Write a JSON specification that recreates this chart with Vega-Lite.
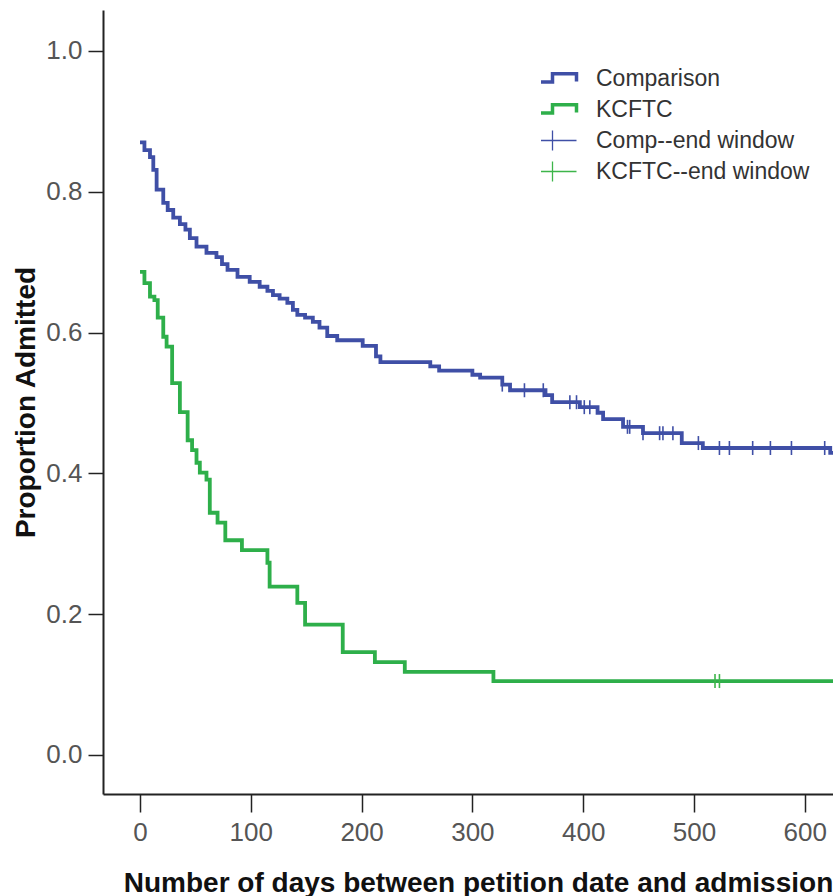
{
  "$schema": "https://vega.github.io/schema/vega-lite/v6.json",
  "width": 730,
  "height": 784,
  "autosize": {"type": "none"},
  "padding": {"left": 103, "top": 10, "right": 0, "bottom": 102},
  "background": "white",
  "config": {"view": {"stroke": null}, "font": "Liberation Sans"},
  "datasets": {
    "curves": [
      {"series": "Comparison", "day": 0, "value": 0.870},
      {"series": "Comparison", "day": 4, "value": 0.859},
      {"series": "Comparison", "day": 9, "value": 0.849},
      {"series": "Comparison", "day": 12, "value": 0.831},
      {"series": "Comparison", "day": 15, "value": 0.803},
      {"series": "Comparison", "day": 21, "value": 0.784},
      {"series": "Comparison", "day": 25, "value": 0.774},
      {"series": "Comparison", "day": 30, "value": 0.763},
      {"series": "Comparison", "day": 36, "value": 0.754},
      {"series": "Comparison", "day": 41, "value": 0.746},
      {"series": "Comparison", "day": 45, "value": 0.734},
      {"series": "Comparison", "day": 51, "value": 0.722},
      {"series": "Comparison", "day": 60, "value": 0.713},
      {"series": "Comparison", "day": 69, "value": 0.707},
      {"series": "Comparison", "day": 74, "value": 0.697},
      {"series": "Comparison", "day": 79, "value": 0.689},
      {"series": "Comparison", "day": 88, "value": 0.679},
      {"series": "Comparison", "day": 99, "value": 0.672},
      {"series": "Comparison", "day": 108, "value": 0.665},
      {"series": "Comparison", "day": 115, "value": 0.659},
      {"series": "Comparison", "day": 120, "value": 0.653},
      {"series": "Comparison", "day": 126, "value": 0.648},
      {"series": "Comparison", "day": 133, "value": 0.642},
      {"series": "Comparison", "day": 138, "value": 0.632},
      {"series": "Comparison", "day": 142, "value": 0.625},
      {"series": "Comparison", "day": 149, "value": 0.621},
      {"series": "Comparison", "day": 156, "value": 0.615},
      {"series": "Comparison", "day": 162, "value": 0.607},
      {"series": "Comparison", "day": 169, "value": 0.595},
      {"series": "Comparison", "day": 178, "value": 0.589},
      {"series": "Comparison", "day": 201, "value": 0.581},
      {"series": "Comparison", "day": 213, "value": 0.566},
      {"series": "Comparison", "day": 217, "value": 0.558},
      {"series": "Comparison", "day": 262, "value": 0.552},
      {"series": "Comparison", "day": 270, "value": 0.546},
      {"series": "Comparison", "day": 300, "value": 0.540},
      {"series": "Comparison", "day": 307, "value": 0.536},
      {"series": "Comparison", "day": 327, "value": 0.526},
      {"series": "Comparison", "day": 334, "value": 0.518},
      {"series": "Comparison", "day": 366, "value": 0.511},
      {"series": "Comparison", "day": 372, "value": 0.501},
      {"series": "Comparison", "day": 397, "value": 0.494},
      {"series": "Comparison", "day": 413, "value": 0.486},
      {"series": "Comparison", "day": 418, "value": 0.477},
      {"series": "Comparison", "day": 436, "value": 0.466},
      {"series": "Comparison", "day": 454, "value": 0.457},
      {"series": "Comparison", "day": 489, "value": 0.443},
      {"series": "Comparison", "day": 508, "value": 0.436},
      {"series": "Comparison", "day": 623, "value": 0.429},
      {"series": "Comparison", "day": 640, "value": 0.429},
      {"series": "KCFTC", "day": 0, "value": 0.686},
      {"series": "KCFTC", "day": 4, "value": 0.670},
      {"series": "KCFTC", "day": 9, "value": 0.651},
      {"series": "KCFTC", "day": 13, "value": 0.646},
      {"series": "KCFTC", "day": 16, "value": 0.621},
      {"series": "KCFTC", "day": 21, "value": 0.594},
      {"series": "KCFTC", "day": 24, "value": 0.580},
      {"series": "KCFTC", "day": 29, "value": 0.528},
      {"series": "KCFTC", "day": 36, "value": 0.487},
      {"series": "KCFTC", "day": 43, "value": 0.447},
      {"series": "KCFTC", "day": 47, "value": 0.433},
      {"series": "KCFTC", "day": 51, "value": 0.415},
      {"series": "KCFTC", "day": 54, "value": 0.401},
      {"series": "KCFTC", "day": 60, "value": 0.391},
      {"series": "KCFTC", "day": 63, "value": 0.344},
      {"series": "KCFTC", "day": 70, "value": 0.330},
      {"series": "KCFTC", "day": 77, "value": 0.305},
      {"series": "KCFTC", "day": 92, "value": 0.291},
      {"series": "KCFTC", "day": 115, "value": 0.273},
      {"series": "KCFTC", "day": 117, "value": 0.239},
      {"series": "KCFTC", "day": 142, "value": 0.216},
      {"series": "KCFTC", "day": 149, "value": 0.185},
      {"series": "KCFTC", "day": 183, "value": 0.146},
      {"series": "KCFTC", "day": 212, "value": 0.132},
      {"series": "KCFTC", "day": 239, "value": 0.118},
      {"series": "KCFTC", "day": 319, "value": 0.105},
      {"series": "KCFTC", "day": 640, "value": 0.105}
    ],
    "censored": [
      {"series": "Comp--end window", "day": 327, "value": 0.526},
      {"series": "Comp--end window", "day": 347, "value": 0.518},
      {"series": "Comp--end window", "day": 364, "value": 0.518},
      {"series": "Comp--end window", "day": 388, "value": 0.501},
      {"series": "Comp--end window", "day": 394, "value": 0.501},
      {"series": "Comp--end window", "day": 401, "value": 0.494},
      {"series": "Comp--end window", "day": 406, "value": 0.494},
      {"series": "Comp--end window", "day": 440, "value": 0.466},
      {"series": "Comp--end window", "day": 442, "value": 0.466},
      {"series": "Comp--end window", "day": 454, "value": 0.457},
      {"series": "Comp--end window", "day": 469, "value": 0.457},
      {"series": "Comp--end window", "day": 472, "value": 0.457},
      {"series": "Comp--end window", "day": 481, "value": 0.457},
      {"series": "Comp--end window", "day": 504, "value": 0.443},
      {"series": "Comp--end window", "day": 523, "value": 0.436},
      {"series": "Comp--end window", "day": 532, "value": 0.436},
      {"series": "Comp--end window", "day": 553, "value": 0.436},
      {"series": "Comp--end window", "day": 569, "value": 0.436},
      {"series": "Comp--end window", "day": 588, "value": 0.436},
      {"series": "Comp--end window", "day": 618, "value": 0.436},
      {"series": "KCFTC--end window", "day": 519, "value": 0.105},
      {"series": "KCFTC--end window", "day": 523, "value": 0.105}
    ]
  },
  "encoding": {
    "x": {
      "field": "day",
      "type": "quantitative",
      "scale": {"domain": [-33.4, 625.5], "nice": false, "zero": false},
      "axis": {
        "title": "Number of days between petition date and admission",
        "values": [0, 100, 200, 300, 400, 500, 600],
        "grid": false,
        "domainColor": "#222",
        "domainWidth": 2,
        "tickColor": "#222",
        "tickWidth": 1.5,
        "tickSize": 18,
        "labelFont": "Liberation Sans",
        "labelFontSize": 26,
        "labelColor": "#555",
        "labelPadding": 7,
        "titleFont": "Liberation Sans",
        "titleFontSize": 28,
        "titleFontWeight": "bold",
        "titleColor": "#111",
        "titleX": 375,
        "titleY": 89,
        "titleBaseline": "middle"
      }
    },
    "y": {
      "field": "value",
      "type": "quantitative",
      "scale": {"domain": [-0.0554, 1.058], "nice": false, "zero": false},
      "axis": {
        "title": "Proportion Admitted",
        "values": [0, 0.2, 0.4, 0.6, 0.8, 1.0],
        "format": ".1f",
        "grid": false,
        "domainColor": "#222",
        "domainWidth": 2,
        "tickColor": "#222",
        "tickWidth": 1.5,
        "tickSize": 15,
        "labelFont": "Liberation Sans",
        "labelFontSize": 26,
        "labelColor": "#555",
        "labelPadding": 6,
        "titleFont": "Liberation Sans",
        "titleFontSize": 28,
        "titleFontWeight": "bold",
        "titleColor": "#111",
        "titleX": -77,
        "titleBaseline": "middle"
      }
    }
  },
  "layer": [
    {
      "data": {"name": "curves"},
      "mark": {"type": "line", "interpolate": "step-after", "strokeWidth": 3.8, "clip": true},
      "encoding": {
        "color": {
          "field": "series",
          "type": "nominal",
          "scale": {
            "domain": ["Comparison", "KCFTC", "Comp--end window", "KCFTC--end window"],
            "range": ["#3F4FA6", "#2EAF4A", "#3F4FA6", "#3DB54A"]
          },
          "legend": {
            "title": null,
            "orient": "none",
            "legendX": 438,
            "legendY": 53,
            "symbolSize": 2304,
            "clipHeight": 31,
            "rowPadding": 0,
            "labelOffset": 32,
            "labelLimit": 0,
            "labelFont": "Liberation Sans",
            "labelFontSize": 23,
            "labelColor": "#333",
            "encode": {
              "symbols": {
                "update": {
                  "shape": {"signal": "indexof(['Comparison','KCFTC'], datum.value) >= 0 ? 'M-1,0.15H0V-0.2H1V0.12' : 'M-1,0H1M0,-0.42V0.42'"},
                  "strokeWidth": {"signal": "indexof(['Comparison','KCFTC'], datum.value) >= 0 ? 3.5 : 1.3"},
                  "fill": {"value": "transparent"},
                  "stroke": {"signal": "scale('color', datum.value)"}
                }
              }
            }
          }
        }
      }
    },
    {
      "data": {"name": "censored"},
      "mark": {"type": "point", "shape": "M0,-1V1", "size": 196, "strokeWidth": 1.6, "filled": false, "opacity": 1},
      "encoding": {
        "color": {"field": "series", "type": "nominal"}
      }
    },
    {
      "data": {"values": [{"top": 1.058}]},
      "mark": {"type": "rule", "color": "#222", "strokeWidth": 2},
      "encoding": {"y": {"field": "top", "type": "quantitative"}}
    }
  ]
}
